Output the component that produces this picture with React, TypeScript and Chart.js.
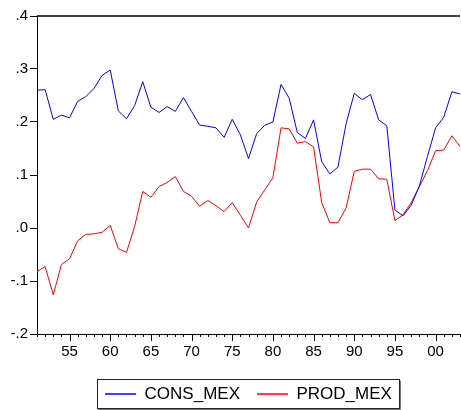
import React, { useEffect, useRef } from 'react';
import { Chart, registerables } from 'chart.js';

Chart.register(...registerables);

const years = [
  '1951', '1952', '1953', '1954', '1955', '1956', '1957', '1958', '1959', '1960',
  '1961', '1962', '1963', '1964', '1965', '1966', '1967', '1968', '1969', '1970',
  '1971', '1972', '1973', '1974', '1975', '1976', '1977', '1978', '1979', '1980',
  '1981', '1982', '1983', '1984', '1985', '1986', '1987', '1988', '1989', '1990',
  '1991', '1992', '1993', '1994', '1995', '1996', '1997', '1998', '1999', '2000',
  '2001', '2002', '2003',
];

const consMex = [
  0.260, 0.261, 0.205, 0.213, 0.208, 0.239, 0.248, 0.263, 0.288, 0.298,
  0.221, 0.206, 0.231, 0.276, 0.228, 0.218, 0.229, 0.220, 0.246, 0.220,
  0.194, 0.192, 0.189, 0.171, 0.205, 0.176, 0.131, 0.178, 0.194, 0.200,
  0.271, 0.245, 0.180, 0.169, 0.204, 0.125, 0.102, 0.115, 0.197, 0.254,
  0.242, 0.252, 0.204, 0.193, 0.034, 0.023, 0.043, 0.079, 0.135, 0.189,
  0.209, 0.257, 0.253,
];

const prodMex = [
  -0.082, -0.073, -0.126, -0.069, -0.058, -0.024, -0.012, -0.011, -0.008, 0.005,
  -0.039, -0.046, 0.003, 0.069, 0.058, 0.078, 0.086, 0.097, 0.069, 0.060,
  0.041, 0.052, 0.042, 0.031, 0.048, 0.024, 0.000, 0.049, 0.072, 0.095,
  0.189, 0.187, 0.160, 0.163, 0.153, 0.048, 0.010, 0.010, 0.038, 0.107,
  0.111, 0.111, 0.093, 0.092, 0.014, 0.025, 0.048, 0.078, 0.108, 0.146,
  0.147, 0.174, 0.154,
];

const seriesNames = ['CONS_MEX', 'PROD_MEX'];
const yMin = -0.2;
const yMax = 0.4;
const yStep = 0.1;

const FONT = "'Liberation Sans', Arial, Helvetica, sans-serif";

const formatY = (v: number) => {
  const r = Math.round(v * 10) / 10;
  const s = r.toFixed(1);
  return s.replace('0.', '.');
};

const framePlugin = {
  id: 'eviewsFrame',
  afterDraw(chart: any) {
    const { ctx, chartArea } = chart;
    const xs = chart.scales.x;
    ctx.save();
    // top border
    ctx.strokeStyle = '#000';
    ctx.lineWidth = 1.5;
    ctx.beginPath();
    ctx.moveTo(chartArea.left, chartArea.top);
    ctx.lineTo(chartArea.right, chartArea.top);
    ctx.stroke();
    // x ticks (minor every year, major every 5)
    ctx.lineWidth = 1;
    ctx.beginPath();
    for (let i = 0; i < years.length; i++) {
      const px = Math.round(xs.getPixelForValue(i)) + 0.5;
      const major = Number(years[i]) % 5 === 0;
      const len = major ? 7 : 3;
      ctx.moveTo(px, chartArea.bottom);
      ctx.lineTo(px, chartArea.bottom + len);
    }
    ctx.stroke();
    // legend frame
    const lg = chart.legend;
    if (lg && lg.legendHitBoxes && lg.legendHitBoxes.length) {
      const hbs = lg.legendHitBoxes;
      let minX = Infinity, maxX = -Infinity;
      hbs.forEach((h: any) => {
        minX = Math.min(minX, h.left);
        maxX = Math.max(maxX, h.left + h.width);
      });
      const cy = hbs[0].top + hbs[0].height / 2;
      const left = Math.round(minX - 8) + 0.5;
      const right = Math.round(maxX + 7) + 0.5;
      const top = Math.round(cy - 15.5) + 0.5;
      const bottom = Math.round(cy + 13.5) + 0.5;
      ctx.strokeStyle = '#222';
      ctx.lineWidth = 1;
      ctx.strokeRect(left, top, right - left, bottom - top);
      ctx.strokeStyle = '#777';
      ctx.beginPath();
      ctx.moveTo(left + 1, bottom + 1);
      ctx.lineTo(right + 1, bottom + 1);
      ctx.lineTo(right + 1, top + 1);
      ctx.stroke();
    }
    ctx.restore();
  },
};

export default function App() {
  const canvasRef = useRef<HTMLCanvasElement | null>(null);

  useEffect(() => {
    if (!canvasRef.current) return;
    Chart.defaults.font.family = FONT;
    const chart = new Chart(canvasRef.current, {
      type: 'line',
      data: {
        labels: years,
        datasets: [
          {
            label: seriesNames[0],
            data: consMex,
            borderColor: '#0000ff',
            backgroundColor: '#0000ff',
            borderWidth: 1,
            pointRadius: 0,
            tension: 0,
          },
          {
            label: seriesNames[1],
            data: prodMex,
            borderColor: '#ff0000',
            backgroundColor: '#ff0000',
            borderWidth: 1,
            pointRadius: 0,
            tension: 0,
          },
        ],
      },
      options: {
        responsive: false,
        animation: false,
        devicePixelRatio: 1,
        layout: { padding: { top: 16, right: 0, left: 0, bottom: -2.5 } },
        plugins: {
          tooltip: { enabled: false },
          legend: {
            display: true,
            position: 'bottom',
            fullSize: false,
            labels: {
              boxWidth: 31,
              boxHeight: 0,
              padding: 17,
              color: '#000',
              font: { family: FONT, size: 17 },
            },
          },
        },
        scales: {
          x: {
            type: 'category',
            offset: false,
            grid: {
              display: true,
              drawOnChartArea: false,
              drawTicks: true,
              tickLength: 8,
              color: 'rgba(0,0,0,0)',
            },
            border: { display: true, color: '#000', width: 1 },
            ticks: {
              autoSkip: false,
              maxRotation: 0,
              minRotation: 0,
              padding: 1,
              color: '#000',
              font: { family: FONT, size: 15 },
              callback: (_v: any, i: number) => {
                const y = years[i];
                return Number(y) % 5 === 0 ? y.slice(2) : '';
              },
            },
            afterFit: (scale: any) => {
              scale.height = 34.5;
            },
          },
          y: {
            min: yMin,
            max: yMax,
            grid: {
              display: true,
              drawOnChartArea: false,
              drawTicks: true,
              tickLength: 7,
              color: '#000',
            },
            border: { display: true, color: '#000', width: 1 },
            ticks: {
              stepSize: yStep,
              padding: 2,
              color: '#000',
              font: { family: FONT, size: 15 },
              callback: (v: any) => formatY(Number(v)),
            },
            afterFit: (scale: any) => {
              scale.width = 37;
            },
          },
        },
      },
      plugins: [framePlugin],
    } as any);
    return () => chart.destroy();
  }, []);

  return (
    <div style={{ position: 'absolute', left: 0, top: 0, width: 461, height: 410, background: '#fff' }}>
      <canvas ref={canvasRef} width={461} height={410} />
    </div>
  );
}
